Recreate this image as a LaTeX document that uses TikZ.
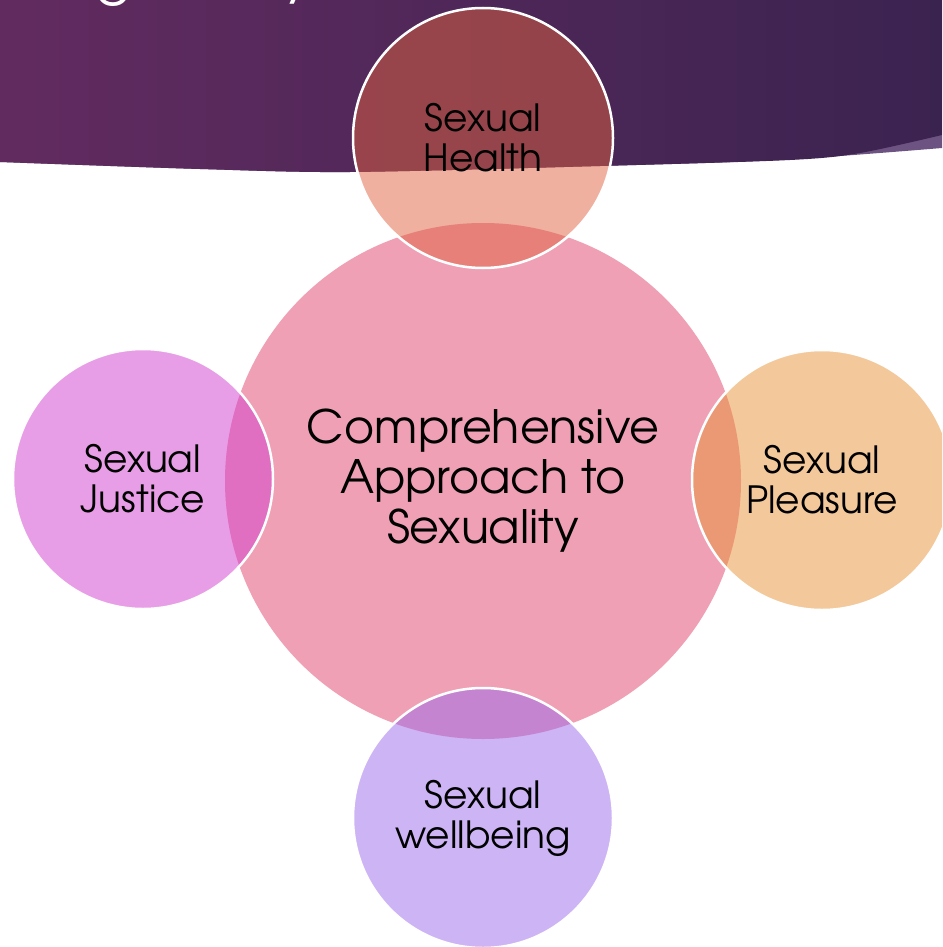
\documentclass[tikz,border=0pt]{standalone}
\usepackage{fontspec}
\setmainfont{TeX Gyre Adventor}
\definecolor{bannerleft}{HTML}{622B60}
\definecolor{bannermid}{HTML}{5A2A61}
\definecolor{bannerright}{HTML}{3B2350}
\definecolor{bannerlight}{HTML}{6C5382}
\definecolor{corepink}{HTML}{F0A0B5}
\definecolor{healthc}{HTML}{DF613F}
\definecolor{pleasurec}{HTML}{E79337}
\definecolor{justicec}{HTML}{D13DCD}
\definecolor{wellc}{HTML}{9B69EB}
\begin{document}
\begin{tikzpicture}[x=1pt,y=-1pt,
  topic/.style={circle, draw=white, line width=2.5pt, minimum size=260pt,
    inner sep=0pt, fill opacity=0.5, draw opacity=1, text opacity=1,
    align=center, text=black, font=\fontsize{37.5}{40}\selectfont},
  hub/.style={circle, fill=corepink, minimum size=516pt, inner sep=0pt,
    align=center, text=black, font=\fontsize{46}{50}\selectfont},
  titleglyph/.style={text=white, inner sep=0pt, anchor=south,
    font=\fontsize{56}{56}\selectfont}]
\useasboundingbox (0,0) rectangle (942,947);
\begin{scope}
\clip (0,0) rectangle (942,947);
% header band: light lower edge on the right, dark gradient above it
\fill[bannerlight] (0,0) -- (942,0) -- plot[smooth] coordinates
  {(942,148) (780,160) (600,166) (350,172) (200,169) (0,162)} -- cycle;
\shade[left color=bannerleft, middle color=bannermid, right color=bannerright]
  (0,0) -- (942,0) -- plot[smooth] coordinates
  {(942,135) (860,153) (790,160) (600,166) (350,172) (200,169) (0,162)} -- cycle;
% descenders of the heading, cut off by the top edge
\node[titleglyph] (headg) at (113,7) {g};
\node[titleglyph] (heady) at (298,4) {y};
% central circle
\node[hub] (core) at (483,481) {Comprehensive\\Approach to\\Sexuality};
% four surrounding circles
\node[topic, fill=healthc] (health) at (483,138) {Sexual\\Health};
\node[topic, fill=justicec] (justice) at (143,479) {Sexual\\Justice};
\node[topic, fill=pleasurec] (pleasure) at (822,480) {Sexual\\Pleasure};
\node[topic, fill=wellc] (wellbeing) at (483,818) {Sexual\\wellbeing};
\end{scope}
\end{tikzpicture}
\end{document}
